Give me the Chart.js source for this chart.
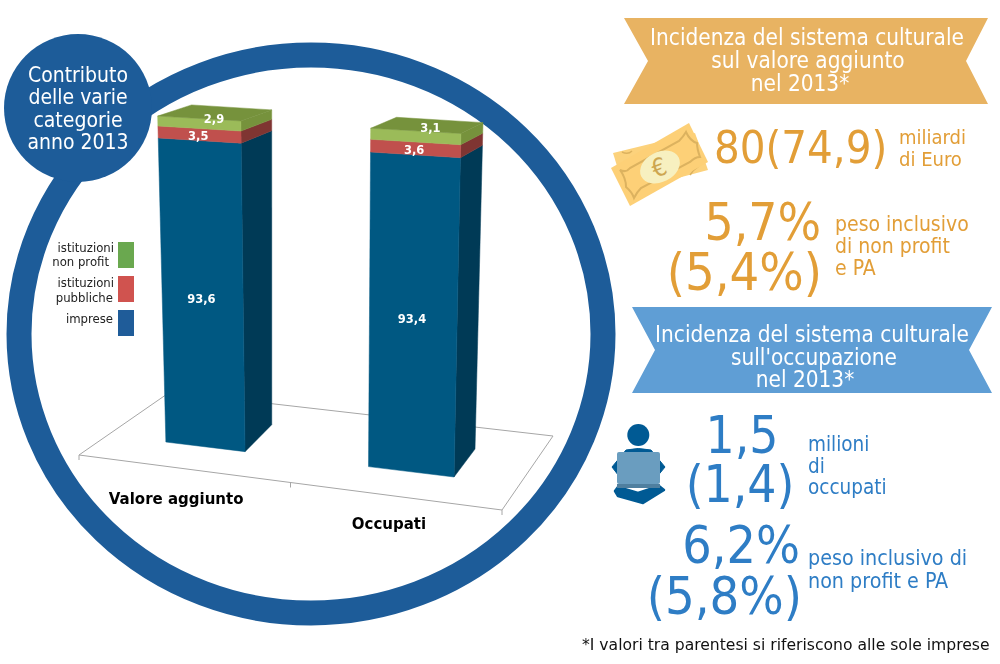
<!DOCTYPE html>
<html>
<head>
<meta charset="utf-8">
<script src="https://cdn.jsdelivr.net/npm/chart.js@4"></script>
<style>
html,body{margin:0;padding:0;background:#fff;overflow:hidden}
#page{position:relative;width:1000px;height:664px;overflow:hidden;font-family:"DejaVu Sans";font-stretch:condensed}
#page svg,#myChart{position:absolute;left:0;top:0}
.t{position:absolute;white-space:nowrap;line-height:1;transform:translateY(-50%)}
.c{transform:translate(-50%,-50%);text-align:center}
.w{color:#fff}
.o{color:#e29e37}
.b{color:#2e7dc5}
.g{color:#222}
</style>
</head>
<body>
<div id="page">
<svg width="1000" height="664">
  <ellipse cx="311" cy="334" rx="292" ry="279" fill="none" stroke="#1d5c99" stroke-width="25"/>
  <circle cx="78" cy="108" r="74" fill="#1d5c99"/>
  <polygon points="624,18 988,18 966,61 988,104 624,104 648,61" fill="#e8b362"/>
  <polygon points="632,307 992,307 969,350 992,393 632,393 655,350" fill="#5f9ed5"/>
  <rect x="118" y="242" width="16" height="26" fill="#6aa84f"/>
  <rect x="118" y="276" width="16" height="26" fill="#d0534f"/>
  <rect x="118" y="310" width="16" height="26" fill="#1f5c99"/>
  <!-- banconote -->
  <polygon points="613,153 695,133 708,170 625,192" fill="#fcd27c"/>
  <path d="M622 152 Q628 155 632 151 M694 146 Q692 152 697 157 M699 166 Q693 170 690 175" fill="none" stroke="#dcb25f" stroke-width="1.5"/>
  <polygon points="611,168 689,123 708,162 630,206" fill="#fdd077"/>
  <path d="M620 170 Q626 173 630 168 L679 141 Q683 137 686 132 Q690 141 697 143 Q697 149 700 157 Q695 157 690 162 L641 188 Q637 192 634 198 Q632 192 626 187 Q626 178 620 170 Z" fill="none" stroke="#dcb25f" stroke-width="2"/>
  <ellipse cx="660" cy="167" rx="21" ry="15" transform="rotate(-27 660 167)" fill="#f7f0c0"/>
  <text x="659" y="176" font-size="25" font-family="DejaVu Sans" text-anchor="middle" fill="#cda650" transform="rotate(-20 659 167)">€</text>
  <!-- persona -->
  <circle cx="638.3" cy="435" r="11" fill="#005a94"/>
  <path d="M626 450 Q638 447 651 450 L665 467 L651 484 L625 484 L612 467 Z" fill="#005a94" stroke="#005a94" stroke-linejoin="round"/>
  <polygon points="618,487 638,493 659,486 664,490 643,503 618,496 615,491" fill="#005a94" stroke="#005a94" stroke-width="2.5" stroke-linejoin="round"/>
  <rect x="617" y="484" width="43" height="4" fill="#4f7f9f"/>
  <rect x="617" y="452" width="43" height="32" rx="2" fill="#6a9dbf"/>
</svg>
<canvas id="myChart" width="1000" height="664"></canvas>

<div class="t c w" style="left:78px;top:75px;font-size:21px">Contributo</div>
<div class="t c w" style="left:78px;top:97px;font-size:21px">delle varie</div>
<div class="t c w" style="left:78px;top:120px;font-size:21px">categorie</div>
<div class="t c w" style="left:78px;top:142px;font-size:21px">anno 2013</div>

<div class="t g" style="right:886px;top:247px;font-size:13px">istituzioni</div>
<div class="t g" style="right:891px;top:261px;font-size:13px">non profit</div>
<div class="t g" style="right:886px;top:282px;font-size:13px">istituzioni</div>
<div class="t g" style="right:887px;top:297px;font-size:13px">pubbliche</div>
<div class="t g" style="right:887px;top:318px;font-size:13px">imprese</div>

<div class="t c w" style="left:807px;top:37px;font-size:22.4px">Incidenza del sistema culturale</div>
<div class="t c w" style="left:808px;top:60px;font-size:22.4px">sul valore aggiunto</div>
<div class="t c w" style="left:800px;top:83px;font-size:22.4px">nel 2013*</div>

<div class="t o" style="left:714px;top:147px;font-size:45px">80(74,9)</div>
<div class="t o" style="left:899px;top:137px;font-size:20px">miliardi</div>
<div class="t o" style="left:899px;top:159px;font-size:20px">di Euro</div>
<div class="t o" style="right:179px;top:222px;font-size:51px">5,7%</div>
<div class="t o" style="right:178px;top:272px;font-size:52px">(5,4%)</div>
<div class="t o" style="left:835px;top:224px;font-size:21px">peso inclusivo</div>
<div class="t o" style="left:835px;top:246px;font-size:21px">di non profit</div>
<div class="t o" style="left:835px;top:268px;font-size:21px">e PA</div>

<div class="t c w" style="left:812px;top:334px;font-size:22.4px">Incidenza del sistema culturale</div>
<div class="t c w" style="left:814px;top:357px;font-size:22.4px">sull'occupazione</div>
<div class="t c w" style="left:805px;top:379px;font-size:22.4px">nel 2013*</div>

<div class="t c b" style="left:742px;top:435px;font-size:51px">1,5</div>
<div class="t c b" style="left:740px;top:484px;font-size:51px">(1,4)</div>
<div class="t b" style="left:808px;top:444px;font-size:20.5px">milioni</div>
<div class="t b" style="left:808px;top:466px;font-size:20.5px">di</div>
<div class="t b" style="left:808px;top:487px;font-size:20.5px">occupati</div>
<div class="t b" style="right:200px;top:546px;font-size:51.5px">6,2%</div>
<div class="t b" style="right:198px;top:596px;font-size:52px">(5,8%)</div>
<div class="t b" style="left:808px;top:558px;font-size:21.3px">peso inclusivo di</div>
<div class="t b" style="left:808px;top:581px;font-size:21.3px">non profit e PA</div>

<div class="t g" style="left:582px;top:646px;font-size:15.6px;font-stretch:normal;color:#111">*I valori tra parentesi si riferiscono alle sole imprese</div>
</div>

<script>
var categories = ["Valore aggiunto", "Occupati"]
var imprese = [93.6, 93.4]
var pubbliche = [3.5, 3.6]
var nonProfit = [2.9, 3.1]

// piano frontale e piano posteriore delle barre (angoli dell'area del grafico sullo schermo)
var frontPlane = [[97, 112.5], [530.5, 138], [520, 485], [108, 435]]
var backPlane = [[133, 101.3], [549.6, 127.1], [539, 456.7], [138, 408.6]]
var floorPlane = [[79, 455], [502, 510], [553, 436], [170, 392]]

var faces = [
  { front: "#005882", side: "#003a56" },
  { front: "#c0504d", side: "#7f3532" },
  { front: "#9bbb59", side: "#76923c", top: "#76923c" }
]

// omografia quadrato unitario -> quadrilatero
function homography(q) {
  var dx1 = q[1][0] - q[2][0], dx2 = q[3][0] - q[2][0], sx = q[0][0] - q[1][0] + q[2][0] - q[3][0]
  var dy1 = q[1][1] - q[2][1], dy2 = q[3][1] - q[2][1], sy = q[0][1] - q[1][1] + q[2][1] - q[3][1]
  var d = dx1 * dy2 - dx2 * dy1
  var g = (sx * dy2 - dx2 * sy) / d
  var h = (dx1 * sy - sx * dy1) / d
  var a = q[1][0] - q[0][0] + g * q[1][0], b = q[3][0] - q[0][0] + h * q[3][0]
  var e = q[1][1] - q[0][1] + g * q[1][1], f = q[3][1] - q[0][1] + h * q[3][1]
  return function(u, v) {
    var w = g * u + h * v + 1
    return [(a * u + b * v + q[0][0]) / w, (e * u + f * v + q[0][1]) / w]
  }
}
var front = homography(frontPlane)
var back = homography(backPlane)

function poly(ctx, pts, color) {
  ctx.beginPath()
  pts.forEach(function(p, i) { i ? ctx.lineTo(p[0], p[1]) : ctx.moveTo(p[0], p[1]) })
  ctx.closePath()
  ctx.fillStyle = color
  ctx.strokeStyle = color
  ctx.lineWidth = 0.5
  ctx.fill()
  ctx.stroke()
}

function drawFloor(ctx) {
  ctx.beginPath()
  floorPlane.forEach(function(p, i) { i ? ctx.lineTo(p[0], p[1]) : ctx.moveTo(p[0], p[1]) })
  ctx.closePath()
  ctx.strokeStyle = "#a6a6a6"
  ctx.lineWidth = 1
  ctx.stroke()
  // tacche sull'asse
  var a = floorPlane[0], b = floorPlane[1]
  ;[0, 0.5, 1].forEach(function(t) {
    var x = a[0] + (b[0] - a[0]) * t, y = a[1] + (b[1] - a[1]) * t
    ctx.beginPath()
    ctx.moveTo(x, y)
    ctx.lineTo(x, y + 5)
    ctx.stroke()
  })
}

var bars3d = {
  id: "bars3d",
  beforeDatasetsDraw: function(chart) {
    var ctx = chart.ctx, area = chart.chartArea
    var norm = function(x, y) { return [(x - area.left) / area.width, (y - area.top) / area.height] }
    var P = function(plane, x, y) { var n = norm(x, y); return plane(n[0], n[1]) }
    ctx.save()
    drawFloor(ctx)
    var texts = []
    chart.data.labels.forEach(function(label, i) {
      chart.data.datasets.forEach(function(ds, d) {
        var el = chart.getDatasetMeta(d).data[i]
        var l = el.x - el.width / 2, r = el.x + el.width / 2
        var y = el.y, base = el.base, face = faces[d]
        poly(ctx, [P(front, r, y), P(back, r, y), P(back, r, base), P(front, r, base)], face.side)
        poly(ctx, [P(front, l, y), P(front, r, y), P(front, r, base), P(front, l, base)], face.front)
        if (face.top) {
          poly(ctx, [P(front, l, y), P(back, l, y), P(back, r, y), P(front, r, y)], face.top)
        }
        var c = P(front, el.x, (y + base) / 2)
        var isTop = d == chart.data.datasets.length - 1
        texts.push([String(ds.data[i]).replace(".", ","), c[0] + (isTop ? 15 : -1), c[1] + (isTop ? -3 - 4 * i : 3)])
      })
      var el0 = chart.getDatasetMeta(0).data[i]
      var f = P(front, el0.x, el0.base)
      ctx.font = 'bold 15px "DejaVu Sans"'
      ctx.fillStyle = "#000"
      ctx.textAlign = "center"
      ctx.textBaseline = "middle"
      ctx.fillText(label, f[0] - 29 + 7 * i, f[1] + 53)
    })
    ctx.font = 'bold 11.5px "DejaVu Sans"'
    ctx.fillStyle = "#fff"
    texts.forEach(function(t) { ctx.fillText(t[0], t[1], t[2]) })
    ctx.restore()
    return false
  }
}

new Chart("myChart", {
  type: "bar",
  plugins: [bars3d],
  data: {
    labels: categories,
    datasets: [
      { label: "imprese", data: imprese, backgroundColor: faces[0].front },
      { label: "istituzioni pubbliche", data: pubbliche, backgroundColor: faces[1].front },
      { label: "istituzioni non profit", data: nonProfit, backgroundColor: faces[2].front }
    ]
  },
  options: {
    responsive: false,
    animation: false,
    layout: { padding: { left: 100, right: 460, top: 120, bottom: 180 } },
    datasets: { bar: { categoryPercentage: 0.4, barPercentage: 1 } },
    plugins: { legend: { display: false }, tooltip: { enabled: false } },
    scales: {
      x: { stacked: true, display: false },
      y: { stacked: true, display: false, min: 0, max: 100 }
    }
  }
})
</script>
</body>
</html>
